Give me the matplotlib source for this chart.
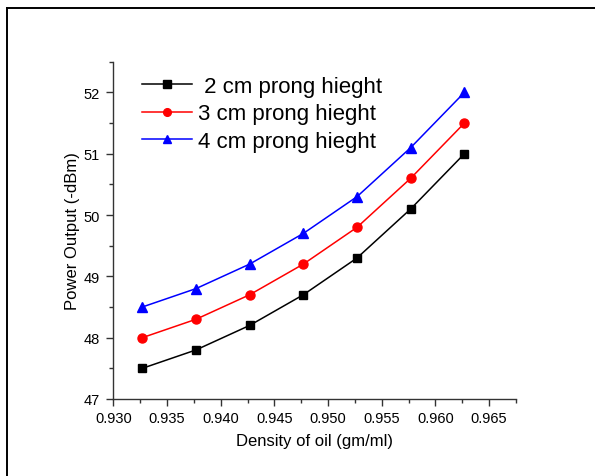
import matplotlib
matplotlib.use("Agg")
import matplotlib.pyplot as plt
from matplotlib.lines import Line2D
from matplotlib.ticker import MultipleLocator, FormatStrFormatter

plt.rcParams['font.family'] = ['Liberation Sans', 'DejaVu Sans']

density = [0.9327, 0.9377, 0.9427, 0.9477, 0.9527, 0.9577, 0.9627]
power_2cm = [47.5, 47.8, 48.2, 48.7, 49.3, 50.1, 51.0]
power_3cm = [48.0, 48.3, 48.7, 49.2, 49.8, 50.6, 51.5]
power_4cm = [48.5, 48.8, 49.2, 49.7, 50.3, 51.1, 52.0]
labels = [" 2 cm prong hieght", "3 cm prong hieght", "4 cm prong hieght"]

fig = plt.figure(figsize=(5.95, 4.77), dpi=100)
ax = fig.add_axes([113.3 / 595, 1 - 400 / 477, (516 - 113.3) / 595, (400 - 62.7) / 477])

ax.plot(density, power_2cm, color='black', marker='s', markersize=6, linewidth=1.1, label=labels[0])
ax.plot(density, power_3cm, color='red', marker='o', markersize=6.5, linewidth=1.1, label=labels[1])
ax.plot(density, power_4cm, color='blue', marker='^', markersize=7, linewidth=1.1, label=labels[2])

ax.set_xlim(0.930, 0.9675)
ax.set_ylim(47, 52.5)
ax.xaxis.set_major_locator(MultipleLocator(0.005))
ax.xaxis.set_minor_locator(MultipleLocator(0.0025))
ax.xaxis.set_major_formatter(FormatStrFormatter('%.3f'))
ax.yaxis.set_major_locator(MultipleLocator(1))
ax.yaxis.set_minor_locator(MultipleLocator(0.5))

for side in ('top', 'right'):
    ax.spines[side].set_visible(False)
for side in ('left', 'bottom'):
    ax.spines[side].set_linewidth(1.0)
    ax.spines[side].set_color('#333333')

ax.tick_params(which='major', direction='out', length=5, width=1.0, labelsize=10.5, color='#333333')
ax.tick_params(axis='y', which='major', pad=4.5)
ax.tick_params(which='minor', direction='out', length=3, width=1.0, color='#333333')

ax.set_xlabel("Density of oil (gm/ml)", fontsize=12, labelpad=6)
ax.set_ylabel("Power Output (-dBm)", fontsize=12, labelpad=3)

ax.legend(loc='upper left', bbox_to_anchor=(0.048, 0.985), frameon=False, fontsize=16,
          handlelength=2.25, handletextpad=0.3, labelspacing=0.3, borderaxespad=0.0,
          markerscale=0.85)

# frame lines along the left and top edges of the figure
fig.add_artist(Line2D([7 / 595, 7 / 595], [0, 1 - 9 / 477], transform=fig.transFigure, color='black', linewidth=1.4))
fig.add_artist(Line2D([7 / 595, 1], [1 - 9 / 477, 1 - 9 / 477], transform=fig.transFigure, color='black', linewidth=1.4))

fig.savefig("out.png", dpi=100)
